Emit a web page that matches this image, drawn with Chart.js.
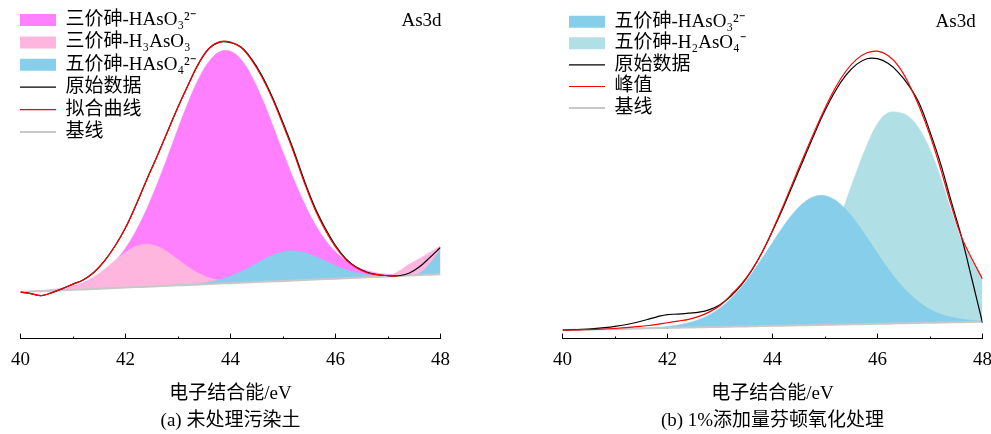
<!DOCTYPE html>
<html>
<head>
<meta charset="utf-8">
<script src="https://cdn.jsdelivr.net/npm/chart.js@4/dist/chart.umd.min.js"></script>
<style>
  html, body { margin: 0; padding: 0; background: #fff; overflow: hidden; width: 991px; height: 434px; position: relative; }
  canvas { position: absolute; top: 0; }
  #ca { left: -4.5px; }
  #cb { left: 526.5px; }
</style>
</head>
<body>
<canvas id="ca" width="480" height="434"></canvas>
<canvas id="cb" width="480" height="434"></canvas>
<script>
// binding energy grid (eV), shared by both spectra
const energy = [40, 40.2, 40.4, 40.6, 40.8, 41, 41.2, 41.4, 41.6, 41.8, 42, 42.2, 42.4, 42.6, 42.8, 43, 43.2, 43.4, 43.6, 43.8,
	44, 44.2, 44.4, 44.6, 44.8, 45, 45.2, 45.4, 45.6, 45.8, 46, 46.2, 46.4, 46.6, 46.8, 47, 47.2, 47.4, 47.6, 47.8, 48];

// (a) untreated soil - intensities in arbitrary units
const rawA = [47, 45.5, 43.5, 46.5, 50.5, 55, 59.5, 67, 78.5, 93.5, 112, 135, 160, 184, 209, 234, 257, 278.5, 293.5, 299.5,
	299, 294.5, 282.5, 265.5, 243.5, 218, 190.5, 160.5, 133.5, 112, 94, 80.5, 72, 67, 64.5, 63.5, 63.5, 66, 72.5, 82, 92];
const fitA = [47, 45.5, 43.5, 46.5, 50.5, 55, 59.5, 67, 78.5, 93.5, 112, 135, 160, 184, 209, 234, 257, 278.5, 293.5, 300,
	299.5, 294, 281.5, 264, 242, 216, 188.5, 158.5, 131.5, 110, 92.5, 79.5, 71.5, 66.5, 64.5, 63.5, 63.5, null, null, null, null];
const baseA = [47, 47.5, 47.9, 48.4, 48.8, 49.3, 49.7, 50.2, 50.6, 51.1, 51.5, 52, 52.4, 52.9, 53.3, 53.8, 54.2, 54.7, 55.1, 55.6,
	56, 56.5, 56.9, 57.4, 57.8, 58.3, 58.7, 59.2, 59.6, 60.1, 60.5, 61, 61.4, 61.9, 62.3, 62.8, 63.2, 63.7, 64.2, 64.6, 65.1];
const as3HAsO3A = [47.1, 47.8, 48.5, 49.5, 50.9, 53.1, 56.3, 61.3, 68.3, 78.2, 91.5, 109, 130.6, 155.8, 183.5, 212.1, 239.5, 263.1, 280.5, 289.9,
	290.3, 281.9, 265.3, 242.7, 216.1, 188.5, 161.6, 137.4, 116.6, 100.1, 87.6, 78.7, 72.5, 68.5, 66.1, 64.9, 64.3, 64.3, 64.5, 64.7, 65.1];
const as3H3AsO3A = [47, 47.6, 48.2, 49.1, 50.5, 52.9, 56.7, 62.5, 70.1, 78.9, 87.1, 93.2, 95.4, 93.3, 87.5, 79.9, 72.1, 65.8, 61.3, 58.7,
	57.4, 57.1, 57.1, 57.4, 57.8, 58.3, 58.7, 59.2, 59.6, 60.1, 60.5, 61, 61.4, 61.9, 62.3, 62.8, 68, 75, 81, 87.3, 93.7];
const as5HAsO4A = [47, 47.5, 47.9, 48.4, 48.8, 49.3, 49.7, 50.2, 50.6, 51.1, 51.5, 52, 52.4, 52.9, 53.3, 54, 54.7, 55.7, 57.2, 59.7,
	63.1, 67.7, 73.2, 79.1, 84.2, 87.6, 88.6, 87, 83.3, 78.6, 73.7, 69.6, 66.5, 64.7, 63.7, 63.4, 63.5, 64, 66, 76, 90];

// (b) 1% Fenton oxidation
const rawB = [8.7, 9, 9.3, 10, 11, 12.3, 14, 16.3, 19, 22, 24.3, 24.7, 25.7, 26.7, 29.3, 34.3, 42.5, 53.7, 68.7, 87,
	108.7, 132, 157, 182, 207, 230.3, 250.3, 266, 277, 282.7, 282.7, 278, 268.7, 255.3, 237, 208.7, 177, 139.3, 102.7, 59.7, 16];
const fitB = [8.7, 8.8, 9, 9.3, 9.7, 10.3, 11, 12, 13, 14.3, 16, 17.7, 19.5, 22.5, 27, 33.5, 43.7, 54.7, 68.7, 87,
	109.3, 133.7, 159.3, 184.7, 209.3, 232.7, 253.7, 270.3, 282, 288.7, 290.3, 286, 275.3, 257, 233.7, 205.3, 172, 135.3, 102.7, 80.3, 60.3];
const baseB = [8.7, 8.9, 9.1, 9.3, 9.5, 9.7, 9.9, 10.2, 10.4, 10.6, 10.8, 11, 11.2, 11.4, 11.6, 11.8, 12, 12.2, 12.4, 12.7,
	12.9, 13.1, 13.3, 13.5, 13.7, 13.9, 14.1, 14.3, 14.5, 14.7, 14.9, 15.1, 15.4, 15.6, 15.8, 16, 16.2, 16.4, 16.6, 16.8, 17];
const as5HAsO3B = [8.7, 8.9, 9.1, 9.3, 9.5, 9.7, 9.9, 10.3, 10.8, 11.4, 12.3, 13.8, 16, 19.3, 24.2, 31, 40, 51.5, 65.2, 80.8,
	97.1, 112.9, 126.9, 137.5, 143.5, 144.3, 139.7, 130.3, 117.3, 102.1, 86.2, 70.8, 57.2, 45.7, 36.6, 29.7, 24.9, 21.7, 19.7, 18.5, 17.9];
const as5H2AsO4B = [8.7, 8.9, 9.1, 9.3, 9.5, 9.7, 9.9, 10.2, 10.4, 10.6, 10.8, 11, 11.2, 11.4, 11.6, 12, 12.3, 13.2, 14.4, 16.6,
	20.1, 25.7, 34.1, 46.4, 63.2, 84.7, 110.5, 139.2, 168.6, 195.6, 217, 228, 228.5, 224, 211.5, 191, 163.2, 130, 99.6, 78.6, 59.4];

const SERIF = "'Times New Roman', 'Liberation Serif', 'Noto Sans CJK SC', serif";
const pts = ys => energy.map((x, i) => ({ x, y: ys[i] }));

// component area, filled down to the baseline dataset
const area = (label, ys, color, baseIndex, order) => ({
	label, data: pts(ys), backgroundColor: color, borderColor: color, borderWidth: 0.5,
	fill: baseIndex, order, pointRadius: 0, tension: 0.4,
});
const line = (label, ys, color, width, order) => ({
	label, data: pts(ys), borderColor: color, backgroundColor: color, borderWidth: width,
	fill: false, order, pointRadius: 0, tension: 0.4,
});

// legend is laid out by Chart.js but parked at a fixed spot inside the plot
const legendSpot = {
	id: 'legendSpot',
	afterLayout(chart, args, opts) {
		const lg = chart.legend;
		if (!lg) return;
		lg.left = opts.x; lg.top = opts.y;
		lg.right = opts.x + lg.width; lg.bottom = opts.y + lg.height;
	},
};
const cornerLabel = {
	id: 'cornerLabel',
	afterDraw(chart, args, opts) {
		const { ctx, scales: { x, y } } = chart;
		ctx.save();
		ctx.font = `19px ${SERIF}`;
		ctx.fillStyle = '#000';
		ctx.textAlign = 'right';
		ctx.textBaseline = 'middle';
		ctx.fillText(opts.text, x.getPixelForValue(opts.at[0]), y.getPixelForValue(opts.at[1]));
		ctx.restore();
	},
};

function panel(canvas, { datasets, caption, padding, legendAt, legendPad, cornerAt }) {
	return new Chart(canvas, {
		type: 'line',
		data: { datasets },
		plugins: [legendSpot, cornerLabel],
		options: {
			responsive: false,
			animation: false,
			layout: { padding },
			scales: {
				x: {
					type: 'linear', min: 40, max: 48,
					ticks: {
						stepSize: 1, autoSkip: false, maxRotation: 0, padding: 15, color: '#000',
						font: { family: SERIF, size: 19 },
						callback: v => (v % 2 === 0 ? String(v) : ''),
					},
					// inward ticks; odd (minor) ones cut short with a dash
					grid: {
						drawOnChartArea: false, tickLength: -5, tickColor: '#000', tickWidth: 1,
						tickBorderDash: c => (c.tick && c.tick.value % 2 ? [2.5, 20] : []),
					},
					border: { display: true, color: '#000', width: 1 },
					title: { display: true, text: '电子结合能/eV', color: '#000', font: { family: SERIF, size: 19 }, padding: { top: -4, bottom: 0 } },
				},
				y: { display: false, min: 0, max: 342 },
			},
			plugins: {
				tooltip: { enabled: false },
				title: {
					display: true, position: 'bottom', text: caption, color: '#000',
					font: { family: SERIF, size: 19, weight: 'normal' }, padding: { top: 4, bottom: 2 },
				},
				legend: {
					position: 'chartArea', align: 'start',
					labels: {
						usePointStyle: true, pointStyleWidth: 36, boxHeight: 12, padding: legendPad,
						color: '#000', font: { family: SERIF, size: 19 },
						generateLabels: chart => chart.data.datasets.map((ds, i) => ({
							text: ds.label,
							fillStyle: ds.backgroundColor,
							strokeStyle: ds.borderColor,
							lineWidth: ds.fill === false ? ds.borderWidth : 0,
							pointStyle: ds.fill === false ? 'line' : 'rect',
							fontColor: '#000', hidden: false, datasetIndex: i,
						})),
					},
				},
				legendSpot: legendAt,
				cornerLabel: { text: 'As3d', at: cornerAt },
			},
		},
	});
}

panel(document.getElementById('ca'), {
	caption: '(a) 未处理污染土',
	padding: { left: 24.5, right: 35.5, top: 0, bottom: 0 },
	legendAt: { x: 20.6, y: 7.1 },
	legendPad: 3.4,
	cornerAt: [48.02, 321],
	datasets: [
		area('三价砷-HAsO₃²⁻', as3HAsO3A, '#ff80ff', 5, 6),
		area('三价砷-H₃AsO₃', as3H3AsO3A, '#ffb6de', 5, 5),
		area('五价砷-HAsO₄²⁻', as5HAsO4A, '#87ceeb', 5, 4),
		line('原始数据', rawA, '#000000', 1.2, 2),
		line('拟合曲线', fitA, '#ff0000', 1.2, 1),
		line('基线', baseA, '#c8c8c8', 2, 3),
	],
});

panel(document.getElementById('cb'), {
	caption: '(b) 1%添加量芬顿氧化处理',
	padding: { left: 35.5, right: 24.5, top: 0, bottom: 0 },
	legendAt: { x: 39.4, y: 9.6 },
	legendPad: 2.6,
	cornerAt: [47.87, 320],
	datasets: [
		area('五价砷-HAsO₃²⁻', as5HAsO3B, '#87ceeb', 4, 4),
		area('五价砷-H₂AsO₄⁻', as5H2AsO4B, '#b0e0e6', 4, 5),
		line('原始数据', rawB, '#000000', 1.2, 2),
		line('峰值', fitB, '#ff0000', 1.2, 1),
		line('基线', baseB, '#c8c8c8', 2, 3),
	],
});
</script>
</body>
</html>
